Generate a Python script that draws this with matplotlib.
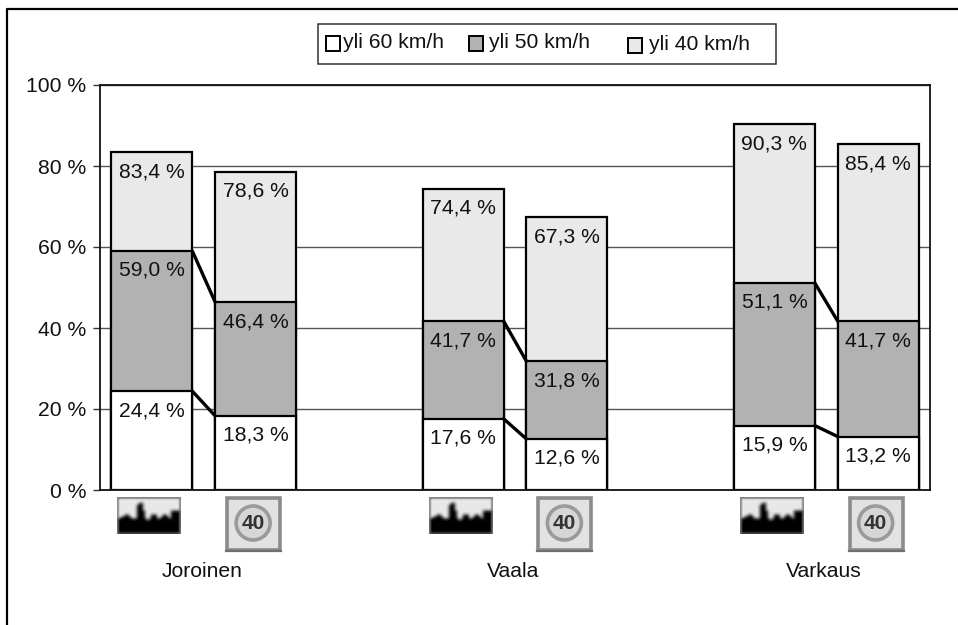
import numpy as np
import matplotlib
matplotlib.use('Agg')
import matplotlib.pyplot as plt
from matplotlib.patches import Rectangle, Circle

plt.rcParams['font.family'] = ['Liberation Sans', 'DejaVu Sans']
plt.rcParams['font.size'] = 15.2

W, H = 958, 625

towns = ['Joroinen', 'Vaala', 'Varkaus']
x_pos = [0, 1, 3, 4, 6, 7]
town_pos = [0.48, 3.48, 6.48]
over_40 = [83.4, 78.6, 74.4, 67.3, 90.3, 85.4]
over_50 = [59.0, 46.4, 41.7, 31.8, 51.1, 41.7]
over_60 = [24.4, 18.3, 17.6, 12.6, 15.9, 13.2]
series_names = ['yli 60 km/h', 'yli 50 km/h', 'yli 40 km/h']
yticks = [0, 20, 40, 60, 80, 100]

c60, c50, c40 = '#ffffff', '#b2b2b2', '#e9e9e9'
bar_w = 0.78

# skyline silhouette for the little town icon, height of each column in cells
skyline = [8, 8, 9, 9, 10, 10, 9, 8, 8, 8, 15, 16, 16, 12, 8, 7, 8, 10, 10, 10, 8, 8, 9, 10, 10, 9, 8, 12, 12, 12, 12, 12]

fig = plt.figure(figsize=(W / 100, H / 100), dpi=100)
ax = fig.add_axes([100 / W, 1 - 490 / H, 830 / W, 405 / H])

ax.bar(x_pos, over_40, bar_w, color=c40, edgecolor='black', linewidth=1.6, zorder=3)
ax.bar(x_pos, over_50, bar_w, color=c50, edgecolor='black', linewidth=1.6, zorder=4)
ax.bar(x_pos, over_60, bar_w, color=c60, edgecolor='black', linewidth=1.6, zorder=5)

# connector lines between the before/after bars
for i in range(0, 6, 2):
    xs = [x_pos[i] + bar_w / 2, x_pos[i + 1] - bar_w / 2]
    ax.plot(xs, [over_50[i], over_50[i + 1]], color='black', lw=2.4, zorder=6, solid_capstyle='round')
    ax.plot(xs, [over_60[i], over_60[i + 1]], color='black', lw=2.4, zorder=6, solid_capstyle='round')

for vals in (over_40, over_50, over_60):
    for x, v in zip(x_pos, vals):
        ax.annotate(f'{v:.1f} %'.replace('.', ','), (x, v), xytext=(0, -14), textcoords='offset points',
                    ha='center', va='center', color='#111111', zorder=7)

ax.set_xlim(-0.5, 7.5)
ax.set_ylim(0, 100)
ax.set_yticks(yticks)
ax.set_yticklabels([f'{t} %' for t in yticks], color='#111111')
ax.set_xticks(town_pos)
ax.set_xticklabels(towns, color='#111111')
ax.tick_params(axis='x', length=0, pad=52)
ax.tick_params(axis='y', length=5, width=1, color='#333333', pad=5)
ax.grid(axis='y', color='#555555', lw=1, zorder=0)
ax.set_axisbelow(True)
for s in ax.spines.values():
    s.set_linewidth(1.3)
    s.set_color('#111111')
ax.spines['bottom'].set_zorder(8)

# overlay in pixel coordinates for frame, legend and icons
ov = fig.add_axes([0, 0, 1, 1], facecolor='none')
ov.set_xlim(0, W)
ov.set_ylim(H, 0)
ov.axis('off')

ov.plot([7, 7, W], [H, 9, 9], color='black', lw=1.6)

ov.add_patch(Rectangle((318.5, 24), 458, 40, fc='white', ec='#333333', lw=1.1))
leg_items = [(326, 343, 43, c60), (469, 489, 43, c50), (628, 649, 45, c40)]
for (sx, tx, ty, col), name in zip(leg_items, series_names):
    ov.add_patch(Rectangle((sx, ty - 7), 14, 15, fc=col, ec='black', lw=1.4))
    ov.text(tx, ty, name, va='center', ha='left', color='#111111')

cells = np.full((19, 32), 0.91)
for c, h in enumerate(skyline):
    cells[19 - h:, c] = 0.0
cells = np.pad(cells, 1, mode='edge')
kernel = np.array([0.25, 0.5, 0.25])
cells = np.apply_along_axis(np.convolve, 0, cells, kernel, mode='same')
cells = np.apply_along_axis(np.convolve, 1, cells, kernel, mode='same')
cells = cells[1:-1, 1:-1]
cells[0, :] = 0.5
cells[-1, :] = 0.25
cells[:, 0] = np.clip(cells[:, 0], 0.4, 0.55)
cells[:, -1] = np.clip(cells[:, -1], 0.4, 0.55)

to_px = ax.transData
for i, x in enumerate(x_pos):
    px = to_px.transform((x, 0))[0] - 2.5
    if i % 2 == 0:
        ov.imshow(cells, cmap='gray', vmin=0, vmax=1, interpolation='bilinear', aspect='auto',
                  extent=(px - 32, px + 32, 534, 497), zorder=2)
    else:
        ov.add_patch(Rectangle((px - 26, 498), 53, 52, fc='#e2e2e2', ec='#8c8c8c', lw=2.6, zorder=2))
        ov.plot([px - 27, px + 28], [550.5, 550.5], color='#707070', lw=1.6, zorder=3)
        ov.add_patch(Circle((px, 523), 17, fc='#d6d6d6', ec='#9a9a9a', lw=2.6, zorder=3))
        ov.text(px, 523.5, '40', ha='center', va='center', fontsize=15, fontweight='bold',
                color='#333333', zorder=4)
ov.set_xlim(0, W)
ov.set_ylim(H, 0)
ov.set_aspect('auto')

fig.savefig('out.png', dpi=100)
